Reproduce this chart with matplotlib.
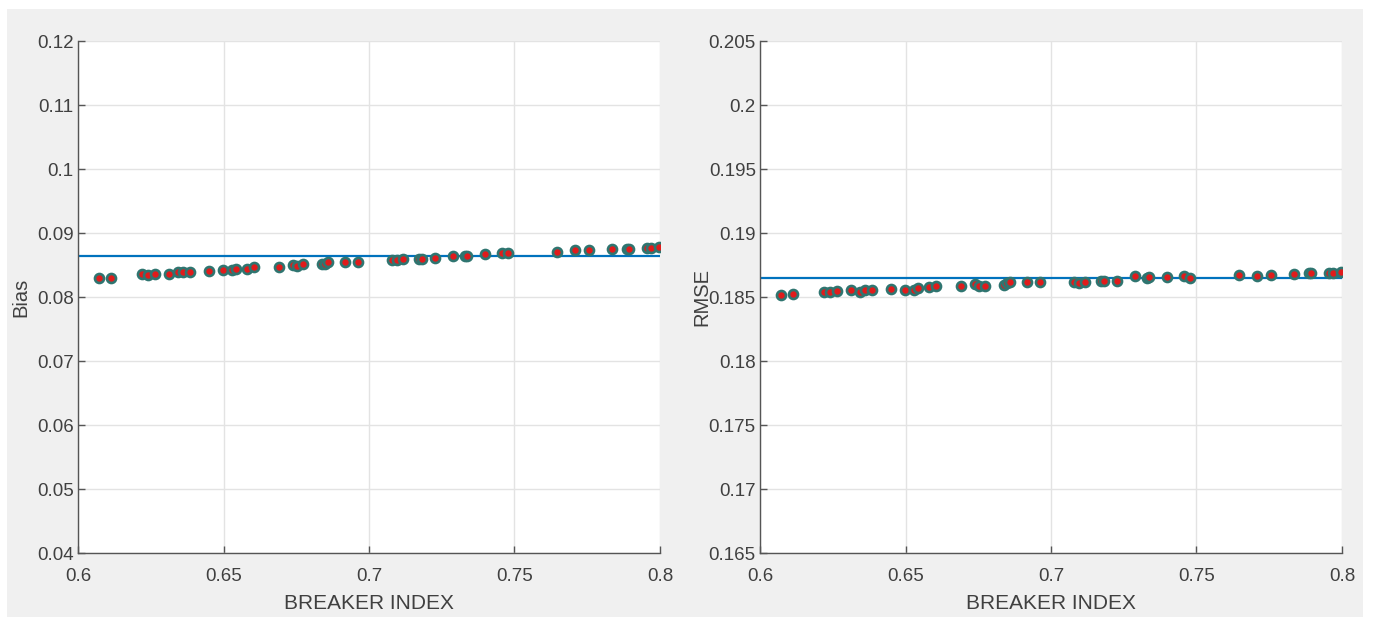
import numpy as np
import matplotlib.pyplot as plt
from matplotlib.patches import Rectangle

plt.rcParams['font.family'] = ['Liberation Sans', 'DejaVu Sans']

# breaker index values (same for both panels)
breaker = [0.6072, 0.6112, 0.6219, 0.6242, 0.6264, 0.6312, 0.6343, 0.6362, 0.6384,
           0.6450, 0.6499, 0.6530, 0.6543, 0.6582, 0.6604, 0.6690, 0.6740, 0.6752,
           0.6773, 0.6840, 0.6849, 0.6860, 0.6919, 0.6961, 0.7078, 0.7097, 0.7118,
           0.7172, 0.7181, 0.7228, 0.7288, 0.7330, 0.7338, 0.7400, 0.7456, 0.7478,
           0.7647, 0.7707, 0.7755, 0.7836, 0.7886, 0.7895, 0.7956, 0.7968, 0.7998]

bias = [0.08294, 0.08303, 0.08356, 0.08341, 0.08356, 0.08366, 0.08388, 0.08388, 0.08388,
        0.08413, 0.08429, 0.08429, 0.08444, 0.08444, 0.08466, 0.08476, 0.08507, 0.08491,
        0.08513, 0.08523, 0.08523, 0.08545, 0.08554, 0.08554, 0.08581, 0.08581, 0.08597,
        0.08597, 0.08597, 0.08617, 0.08648, 0.08648, 0.08648, 0.08670, 0.08686, 0.08686,
        0.08706, 0.08727, 0.08727, 0.08743, 0.08754, 0.08754, 0.08769, 0.08769, 0.08774]

rmse = [0.18516, 0.18524, 0.18537, 0.18537, 0.18545, 0.18553, 0.18542, 0.18553, 0.18553,
        0.18560, 0.18557, 0.18557, 0.18573, 0.18578, 0.18586, 0.18586, 0.18600, 0.18589,
        0.18589, 0.18597, 0.18612, 0.18618, 0.18618, 0.18615, 0.18618, 0.18612, 0.18620,
        0.18628, 0.18623, 0.18628, 0.18662, 0.18647, 0.18655, 0.18655, 0.18662, 0.18651,
        0.18670, 0.18665, 0.18675, 0.18678, 0.18691, 0.18691, 0.18691, 0.18691, 0.18699]

bias_ref = 0.08644
rmse_ref = 0.18647

bias_ticks = np.arange(0.04, 0.1201, 0.01)
rmse_ticks = np.arange(0.165, 0.2051, 0.005)
x_ticks = [0.6, 0.65, 0.7, 0.75, 0.8]

fig = plt.figure(figsize=(13.75, 6.17), dpi=100, facecolor='white')
fig.patches.append(Rectangle((7 / 1375, 0), 1356 / 1375, 1 - 9 / 617,
                             transform=fig.transFigure, facecolor='#f0f0f0',
                             edgecolor='none', zorder=-10))

ax1 = fig.add_axes([78 / 1375, 1 - 553 / 617, 582 / 1375, 512 / 617])
ax2 = fig.add_axes([760 / 1375, 1 - 553 / 617, 582 / 1375, 512 / 617])

panels = [(ax1, bias, bias_ref, bias_ticks, 'Bias', (0.04, 0.12), 5),
          (ax2, rmse, rmse_ref, rmse_ticks, 'RMSE', (0.165, 0.205), -2)]

for ax, vals, ref, yt, ylab, ylim, ypad in panels:
    ax.set_facecolor('white')
    ax.axhline(ref, color='#0072BD', linewidth=1.6, zorder=2)
    ax.plot(breaker, vals, 'o', markersize=6.5, markerfacecolor='#e01b1b',
            markeredgecolor='#2f7570', markeredgewidth=1.9, zorder=3)
    ax.set_xlim(0.6, 0.8)
    ax.set_ylim(*ylim)
    ax.set_xticks(x_ticks)
    ax.set_xticklabels([f'{v:g}' for v in x_ticks])
    ax.set_yticks(yt)
    ax.set_yticklabels([f'{round(v, 3):g}' for v in yt])
    ax.grid(True, color='#e3e3e3', linewidth=1)
    ax.set_axisbelow(True)
    for s in ['top', 'right']:
        ax.spines[s].set_visible(False)
    for s in ['left', 'bottom']:
        ax.spines[s].set_color('#555555')
        ax.spines[s].set_linewidth(1)
    ax.tick_params(direction='in', length=5, width=1, color='#555555',
                   labelcolor='#404040', labelsize=13.5)
    ax.tick_params(axis='x', pad=11)
    ax.tick_params(axis='y', pad=3)
    ax.set_xlabel('BREAKER INDEX', fontsize=15, color='#404040', labelpad=6)
    ax.set_ylabel(ylab, fontsize=14.5, color='#404040', labelpad=ypad)

plt.savefig('out.png', dpi=100, facecolor=fig.get_facecolor())
